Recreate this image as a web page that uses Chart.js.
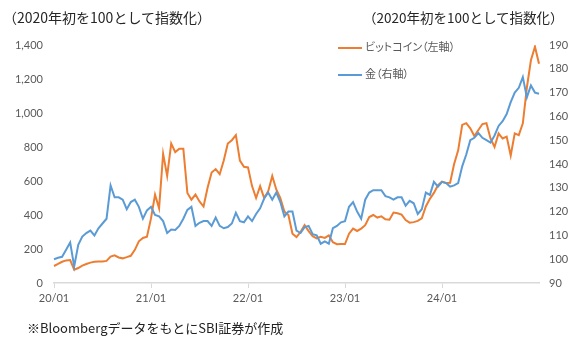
<!DOCTYPE html>
<html lang="ja">
<head>
<meta charset="utf-8">
<script src="https://cdn.jsdelivr.net/npm/chart.js@4.4.1/dist/chart.umd.min.js"></script>
<style>
  body { margin: 0; background: #fff; }
  #wrap { position: relative; width: 576px; height: 348px; font-family: "Noto Sans CJK JP", sans-serif; }
  #chart { position: absolute; left: 0; top: 0; }
  .title { position: absolute; top: 7px; font-size: 14px; color: #262626; white-space: nowrap; }
  .note { position: absolute; left: 27px; top: 318px; font-size: 13px; color: #222; white-space: nowrap; }
  .legend { position: absolute; left: 338px; font-size: 11px; color: #595959; white-space: nowrap;
            font-feature-settings: "palt"; line-height: 14px; }
  .legend i { display: inline-block; width: 24px; height: 2px; vertical-align: middle; margin-right: 3px; }
</style>
</head>
<body>
<div id="wrap">
  <canvas id="chart" width="576" height="348"></canvas>
  <div class="title" style="left:3px">（2020年初を100として指数化）</div>
  <div class="title" style="left:363px; font-size:13.5px">（2020年初を100として指数化）</div>
  <div class="legend" style="top:39px"><i style="background:#ED7D31"></i>ビットコイン（左軸）</div>
  <div class="legend" style="top:66px"><i style="background:#5B9BD5"></i>金（右軸）</div>
  <div class="note">※Bloombergデータをもとに<span>SBI</span>証券が作成</div>
</div>

<script>
// half-month index values, Jan 2020 = 100
const years = ['20', '21', '22', '23', '24'];
const yearTicks = ['20/01', '21/01', '22/01', '23/01', '24/01'];

const bitcoin = [
  100, 112, 125, 133, 135, 78, 88, 102, 112, 120,
  125, 127, 127, 130, 155, 163, 150, 145, 152, 160,
  195, 245, 265, 272, 380, 520, 440, 760, 630, 820,
  770, 790, 790, 530, 490, 520, 480, 450, 560, 650,
  670, 640, 720, 820, 840, 870, 720, 684, 680, 570,
  500, 570, 500, 540, 630, 550, 500, 420, 400, 290,
  270, 300, 340, 305, 275, 263, 272, 265, 280, 240,
  228, 230, 229, 290, 320, 306, 320, 340, 388, 400,
  385, 392, 375, 372, 414, 410, 402, 370, 355, 358,
  365, 380, 450, 495, 530, 575, 596, 588, 590, 700,
  780, 930, 940, 910, 865, 900, 935, 940, 850, 800,
  880, 850, 861, 750, 880, 870, 939, 1150, 1310, 1390,
  1290
];

const gold = [
  100, 100.6, 101, 104, 107, 97, 106, 109.5, 111, 112,
  110, 113, 115, 117, 131, 126, 126, 125, 121, 124,
  125, 122, 117, 120.5, 122, 118.6, 118, 116, 111, 112.5,
  112.3, 114, 117, 120.7, 122, 114, 115.3, 116, 116, 114,
  117.5, 114, 113, 113.5, 115, 119.5, 116, 115.5, 118, 116,
  119, 121.4, 125.5, 128, 125, 128, 124, 118, 120, 120,
  112, 111, 113.5, 114, 110.5, 110, 106.5, 107.5, 106.5, 113,
  114, 115.5, 116, 122, 124, 120, 117, 125, 128, 129,
  129, 129, 126.5, 126, 125, 126, 126, 122.5, 124.5, 123.5,
  119, 121, 128, 127, 132.5, 130.5, 132.5, 132, 130.5, 131,
  132, 139, 144, 150, 151, 153, 151, 150, 149, 152,
  156, 158, 161, 166, 170, 172, 176.5, 168, 173, 170,
  169.5
];

// category labels: two per month, plus the closing point
const periods = [];
years.forEach(yy => {
  for (let m = 1; m <= 12; m++) {
    const mm = String(m).padStart(2, '0');
    periods.push(yy + '/' + mm, yy + '/' + mm);
  }
});
periods.push('25/01');

const tickFont = { family: 'Lato', size: 11 };
const tickColor = '#595959';

new Chart(document.getElementById('chart'), {
  type: 'line',
  data: {
    labels: periods,
    datasets: [
      {
        label: '金（右軸）',
        data: gold,
        yAxisID: 'y1',
        borderColor: '#5B9BD5',
        borderWidth: 2,
        pointRadius: 0,
        tension: 0
      },
      {
        label: 'ビットコイン（左軸）',
        data: bitcoin,
        yAxisID: 'y',
        borderColor: '#ED7D31',
        borderWidth: 2,
        pointRadius: 0,
        tension: 0
      }
    ]
  },
  options: {
    responsive: false,
    animation: false,
    layout: { padding: { top: 45, left: 0, right: 0, bottom: 0 } },
    plugins: { legend: { display: false }, tooltip: { enabled: false } },
    scales: {
      x: {
        type: 'category',
        grid: { drawOnChartArea: false, drawTicks: true, tickLength: 5, color: '#d9d9d9' },
        border: { display: true, color: '#d9d9d9', width: 1.5 },
        ticks: {
          autoSkip: false,
          maxRotation: 0,
          padding: 4,
          color: tickColor,
          font: tickFont,
          callback: function (value, index) {
            const label = this.getLabelForValue(value);
            return index % 24 === 0 && yearTicks.includes(label) ? label : null;
          }
        },
        afterFit: scale => { scale.height = 65; }
      },
      y: {
        position: 'left',
        min: 0,
        max: 1400,
        grid: { display: false, drawTicks: false },
        border: { display: false },
        ticks: {
          stepSize: 200,
          padding: 11,
          color: tickColor,
          font: tickFont,
          callback: v => v.toLocaleString('en-US')
        },
        afterFit: scale => { scale.width = 54; }
      },
      y1: {
        position: 'right',
        min: 90,
        max: 190,
        grid: { display: false, drawTicks: false },
        border: { display: false },
        ticks: { stepSize: 10, padding: 10, color: tickColor, font: tickFont },
        afterFit: scale => { scale.width = 37; }
      }
    }
  }
});
</script>
</body>
</html>
